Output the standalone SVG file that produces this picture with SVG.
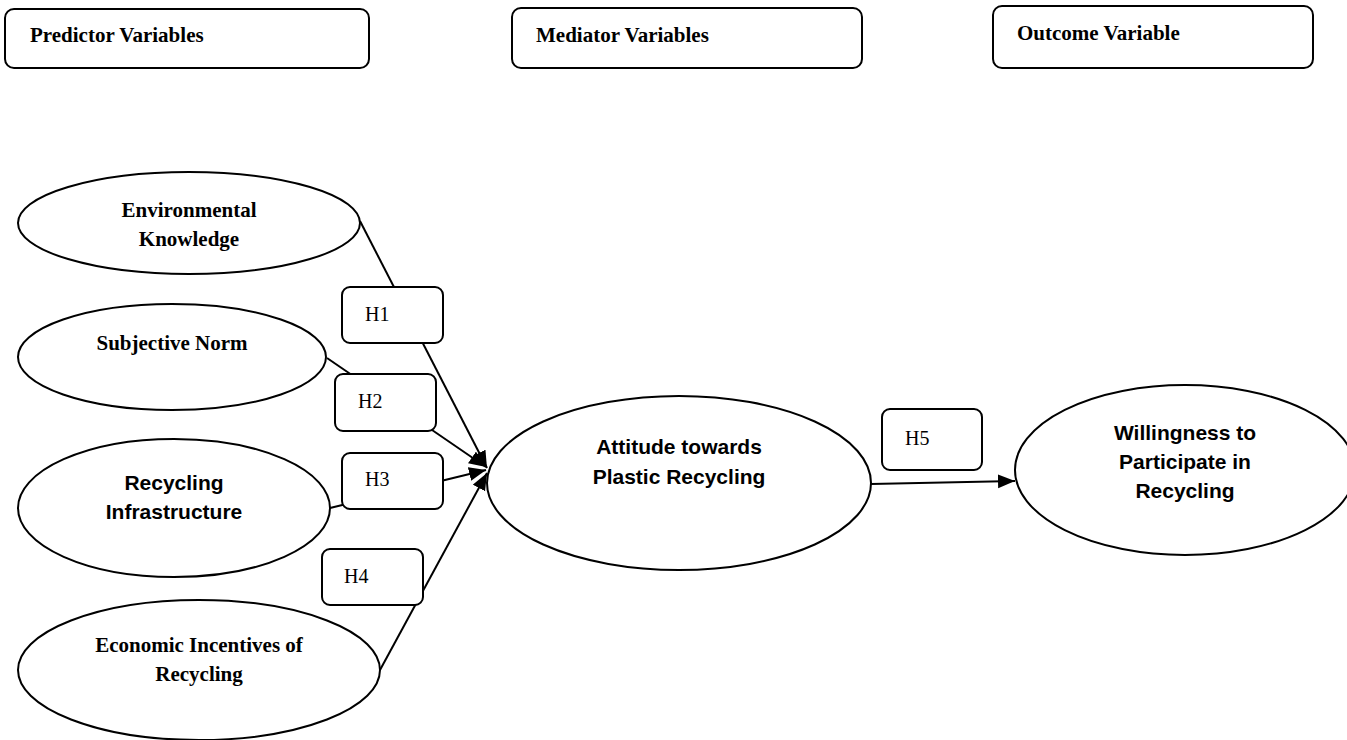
<svg xmlns="http://www.w3.org/2000/svg" width="1347" height="740" viewBox="0 0 1347 740">
<style>
.box{fill:#fff;stroke:#000;stroke-width:2}
.ell{fill:#fff;stroke:#000;stroke-width:2}
.conn{fill:none;stroke:#000;stroke-width:2}
.hdr{font-family:"Liberation Serif",serif;font-weight:bold;font-size:21px;fill:#000}
.tb{font-family:"Liberation Serif",serif;font-weight:bold;font-size:21px;fill:#000;text-anchor:middle}
.ab{font-family:"Liberation Sans",Arial,sans-serif;font-weight:bold;font-size:21px;fill:#000;text-anchor:middle}
.h{font-family:"Liberation Serif",serif;font-size:20px;fill:#000}
</style>
<defs>
<marker id="arr" markerUnits="userSpaceOnUse" markerWidth="18" markerHeight="16" refX="17" refY="7" orient="auto">
<path d="M0,0 L17,7 L0,14 z" fill="#000"/>
</marker>
</defs>
<rect width="1347" height="740" fill="#fff"/>

<g id="hdr-predictor">
<rect class="box" x="5" y="9" width="364" height="59" rx="9"/>
<text class="hdr" x="30" y="42">Predictor Variables</text>
</g>
<g id="hdr-mediator">
<rect class="box" x="512" y="8" width="350" height="60" rx="9"/>
<text class="hdr" x="536" y="42">Mediator Variables</text>
</g>
<g id="hdr-outcome">
<rect class="box" x="993" y="6" width="320" height="62" rx="9"/>
<text class="hdr" x="1017" y="40">Outcome Variable</text>
</g>

<g id="env-knowledge">
<ellipse class="ell" cx="189" cy="223" rx="171" ry="51"/>
<text class="tb" x="189" y="217">Environmental</text>
<text class="tb" x="189" y="246">Knowledge</text>
</g>
<g id="subjective-norm">
<ellipse class="ell" cx="172" cy="357" rx="154" ry="53"/>
<text class="tb" x="172" y="350">Subjective Norm</text>
</g>
<g id="recycling-infra">
<ellipse class="ell" cx="174" cy="508" rx="156" ry="69"/>
<text class="ab" x="174" y="490">Recycling</text>
<text class="ab" x="174" y="519">Infrastructure</text>
</g>
<g id="economic-incentives">
<ellipse class="ell" cx="199" cy="670" rx="181" ry="70"/>
<text class="tb" x="199" y="652">Economic Incentives of</text>
<text class="tb" x="199" y="681">Recycling</text>
</g>
<g id="attitude">
<ellipse class="ell" cx="679" cy="483" rx="192" ry="87"/>
<text class="ab" x="679" y="454">Attitude towards</text>
<text class="ab" x="679" y="484">Plastic Recycling</text>
</g>
<g id="willingness">
<ellipse class="ell" cx="1185" cy="470" rx="170" ry="85"/>
<text class="ab" x="1185" y="440">Willingness to</text>
<text class="ab" x="1185" y="469">Participate in</text>
<text class="ab" x="1185" y="498">Recycling</text>
</g>

<g id="connectors">
<line class="conn" x1="360" y1="221" x2="487" y2="468" marker-end="url(#arr)"/>
<line class="conn" x1="327" y1="358" x2="486" y2="467" marker-end="url(#arr)"/>
<line class="conn" x1="330" y1="508" x2="486" y2="470" marker-end="url(#arr)"/>
<line class="conn" x1="380" y1="670" x2="487" y2="473" marker-end="url(#arr)"/>
<line class="conn" x1="871" y1="484" x2="1015" y2="481" marker-end="url(#arr)"/>
</g>

<g id="label-h1">
<rect class="box" x="342" y="287" width="101" height="56" rx="8"/>
<text class="h" x="365" y="321">H1</text>
</g>
<g id="label-h2">
<rect class="box" x="335" y="374" width="101" height="57" rx="8"/>
<text class="h" x="358" y="408">H2</text>
</g>
<g id="label-h3">
<rect class="box" x="342" y="453" width="101" height="56" rx="8"/>
<text class="h" x="365" y="486">H3</text>
</g>
<g id="label-h4">
<rect class="box" x="322" y="549" width="101" height="56" rx="8"/>
<text class="h" x="344" y="583">H4</text>
</g>
<g id="label-h5">
<rect class="box" x="882" y="409" width="100" height="61" rx="8"/>
<text class="h" x="905" y="445">H5</text>
</g>
</svg>
